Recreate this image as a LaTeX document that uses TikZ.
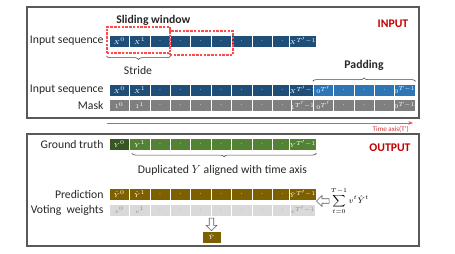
\documentclass[tikz,border=0pt]{standalone}
\usepackage{amsmath}
\usepackage{fontspec}
\setmainfont{Carlito}
\usepackage{xcolor}
\usepackage{tikz}
\usetikzlibrary{positioning,arrows.meta,calc,decorations.pathreplacing,shapes.arrows}
\definecolor{ink}{HTML}{262626}
\definecolor{muted}{HTML}{8C8C8C}
\definecolor{cFrame}{HTML}{595959}
\definecolor{cInp}{HTML}{1F4E79}
\definecolor{cPad}{HTML}{2E75B6}
\definecolor{cMask}{HTML}{7F7F7F}
\definecolor{cTruthA}{HTML}{375623}
\definecolor{cTruth}{HTML}{548235}
\definecolor{cPred}{HTML}{7F6000}
\definecolor{cVote}{HTML}{D9D9D9}
\definecolor{cSlide}{HTML}{FF4B4B}
\definecolor{cTag}{HTML}{C00000}
\tikzset{
  cell/.style  = {draw=white, line width=0.5pt, minimum width=0.612cm, minimum height=0.36cm,
                  inner sep=0pt, text=white, font=\fontsize{5}{5}\selectfont},
  inp/.style   = {cell, fill=cInp},
  pad/.style   = {cell, fill=cPad},
  msk/.style   = {cell, fill=cMask},
  gtr/.style   = {cell, fill=cTruth},
  prd/.style   = {cell, fill=cPred},
  vot/.style   = {cell, fill=cVote, text=muted},
  lab/.style   = {font=\fontsize{10}{11}\selectfont, text=ink, inner sep=0pt},
  ttl/.style   = {font=\bfseries\fontsize{10}{12}\selectfont, text=ink},
  tag/.style   = {font=\bfseries\fontsize{10}{12}\selectfont, text=cTag},
  axl/.style   = {font=\fontsize{6}{7}\selectfont, text=cTag!80, inner sep=0pt},
  frame/.style = {draw=cFrame, line width=0.9pt},
  slidebox/.style = {rectangle, draw=cSlide, line width=1pt, inner sep=0pt,
                  dash pattern=on 2pt off 1.2pt},
  brc/.style   = {decorate, decoration={brace, amplitude=3pt}, draw=ink!85, line width=0.5pt},
  brcd/.style  = {decorate, decoration={brace, amplitude=3pt, mirror}, draw=ink!85, line width=0.5pt},
  tax/.style   = {-{Stealth[length=1.4mm,width=1.1mm]}, draw=cSlide, line width=0.6pt},
  hol/.style   = {single arrow, draw=cFrame, fill=white, line width=0.5pt, inner sep=0.8pt,
                  minimum width=0.33cm, minimum height=0.38cm, single arrow head extend=1.5pt},
}
\begin{document}
\begin{tikzpicture}
  \useasboundingbox (0,0) rectangle (13.65,-7.62);
  \draw[frame] (0.81,-0.21) rectangle (12.57,-3.54);
  \draw[frame] (0.81,-4.02) rectangle (12.57,-7.38);

  \foreach \t [count=\i from 0] in {{$X^0$},{$X^1$},.,.,.,.,.,.,.,{$X^{T'-1}$}}
    \node[inp] (in\i) at ({3.576+0.612*\i},-1.23) {\t};
  \node[lab, left=0.15cm of in0] (inlab) {Input sequence};

  \node[slidebox, minimum width=1.89cm, minimum height=0.72cm] (win2) at (6.045,-1.29) {};
  \node[slidebox, minimum width=1.89cm, minimum height=0.78cm] (win1) at (4.155,-1.2) {};
  \node[ttl] (slide) at (4.6,-0.6) {Sliding window};
  \draw[brcd] ($(win1.south west)+(0,-0.07)$) -- ($(win1.south east)+(0,-0.07)$);
  \node[lab] (stride) at (4.14,-2.1) {Stride};

  \foreach \t [count=\i from 0] in {{$X^0$},{$X^1$},.,.,.,.,.,.,.,{$X^{T'-1}$}}
    \node[inp] (sq\i) at ({3.576+0.612*\i},-2.70) {\t};
  \foreach \t [count=\i from 10] in {{$0^{T'}$},.,.,.,{$0^{T-1}$}}
    \node[pad] (sq\i) at ({3.576+0.612*\i},-2.70) {\t};
  \foreach \t [count=\i from 0] in {{$1^0$},{$1^1$},.,.,.,.,.,.,.,{$1^{T'-1}$},{$0^{T'}$},.,.,.,{$0^{T-1}$}}
    \node[msk] (mk\i) at ({3.576+0.612*\i},-3.165) {\t};
  \node[lab, left=0.15cm of sq0] (sqlab) {Input sequence};
  \node[lab, left=0.15cm of mk0] (mklab) {Mask};

  \draw[brc] ($(sq10.north west)+(0,0.07)$) -- ($(sq14.north east)+(0,0.07)$);
  \node[ttl] (padding) at (10.92,-1.95) {Padding};
  \node[tag] (input) at (11.79,-0.72) {INPUT};

  \coordinate (t0) at (3.21,-3.69);
  \coordinate (t1) at (12.39,-3.69);
  \draw[tax] (t0) -- (t1);
  \node[axl, anchor=north east] (tlab) at ($(t1)+(-0.12,-0.1)$) {Time axis(T')};

  \node[cell, fill=cTruthA] (gt0) at (3.576,-4.32) {$Y^0$};
  \foreach \t [count=\i from 1] in {{$Y^1$},.,.,.,.,.,.,.,{$Y^{T'-1}$}}
    \node[gtr] (gt\i) at ({3.576+0.612*\i},-4.32) {\t};
  \node[lab, left=0.15cm of gt0] (gtlab) {Ground truth};
  \draw[brcd] ($(gt1.south west)+(0.08,-0.09)$) -- ($(gt9.south east)+(0,-0.09)$);
  \node[lab] (dup) at (6.675,-5.1) {Duplicated $Y$ aligned with time axis};
  \node[tag] (output) at (11.7,-4.44) {OUTPUT};

  \foreach \t [count=\i from 0] in {{$\hat{Y}^0$},{$\hat{Y}^1$},.,.,.,.,.,.,.,{$\hat{Y}^{T'-1}$}}
    \node[prd] (pr\i) at ({3.576+0.612*\i},-5.82) {\t};
  \foreach \t [count=\i from 0] in {{$v^0$},{$v^1$},.,.,.,.,.,.,.,{$v^{T'-1}$}}
    \node[vot] (vt\i) at ({3.576+0.612*\i},-6.30) {\t};
  \node[lab, left=0.15cm of pr0] (prlab) {Prediction};
  \node[lab, left=0.15cm of vt0] (vtlab) {Voting\ \ weights};

  \node[hol, shape border rotate=180] (larr) at (9.72,-6.03) {};
  \node[right=1pt of larr, inner sep=0pt, font=\scriptsize] (sum)
    {$\displaystyle\sum_{t=0}^{T-1} v^t\hat{Y}^t$};

  \node[hol, shape border rotate=270] (darr) at (6.345,-6.70) {};
  \node[prd, minimum width=0.57cm] (res) at (6.345,-7.11) {$\hat{Y}$};
\end{tikzpicture}
\end{document}
